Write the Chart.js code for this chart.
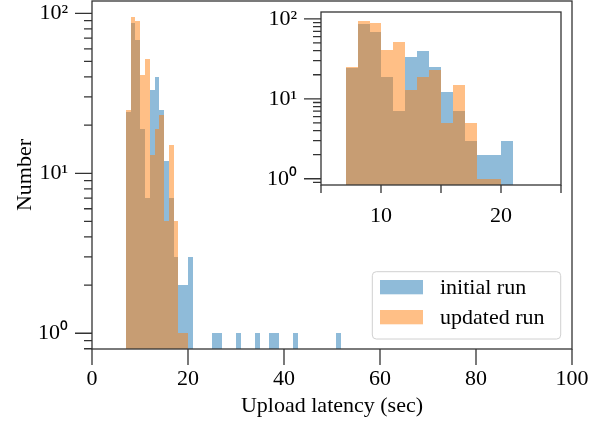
<!DOCTYPE html>
<html><head><meta charset="utf-8">
<script src="https://cdn.jsdelivr.net/npm/chart.js@4.4.0/dist/chart.umd.min.js"></script>
<style>
html,body{margin:0;padding:0;background:#fff;}
#wrap{position:relative;width:606px;height:424px;}
canvas{position:absolute;left:0;top:0;}
#inset{pointer-events:none;}
</style></head><body>
<div id="wrap"><canvas id="main" width="606" height="424"></canvas><canvas id="inset" width="606" height="424"></canvas></div>
<script>
// ---- data ----
const binStart = 7.05;     // left edge of first histogram bin (sec)
const binWidth = 0.997;    // histogram bin width (sec)
const initialRun = [24,87,68,19,7,33,40,25,12,7,3,2,2,3, 0,0,0,0, 1,1, 0,0,0, 1, 0,0,0, 1, 0,0, 1,1, 0,0,0, 1, 0,0,0,0,0,0,0,0, 1];
const updatedRun = [25,95,89,41,52,13,19,23,5,15,5,1,1];
const seriesLabels = ['initial run', 'updated run'];
const mainXTicks = [0, 20, 40, 60, 80, 100];
const insetXTicks = [10, 20];
const insetXTickMarks = [5, 10, 15, 20, 25];
const yTickValues = [1, 10, 100];
const yTickLabels = ['10⁰', '10¹', '10²'];
const yMinorValues = [0.8, 0.9, 2, 3, 4, 5, 6, 7, 8, 9, 20, 30, 40, 50, 60, 70, 80, 90];
const xTitle = 'Upload latency (sec)';
const yTitle = 'Number';

// ---- helpers ----
const FONT = {family: "'Liberation Serif', 'Times New Roman', serif", size: 22};
const AX = '#333';
const toPts = arr => arr.map((c, i) => ({x: binStart + (i + 0.5) * binWidth, y: c > 0 ? c : null}));
function makeDatasets() {
  const common = {borderWidth: 0, grouped: false, categoryPercentage: 1, barPercentage: 1, inflateAmount: 0};
  return [
    Object.assign({label: seriesLabels[0], data: toPts(initialRun), backgroundColor: 'rgba(31,119,180,0.5)', order: 2}, common),
    Object.assign({label: seriesLabels[1], data: toPts(updatedRun), backgroundColor: 'rgba(255,127,14,0.5)', order: 1}, common)
  ];
}
const yLabel = v => { const i = yTickValues.indexOf(v); return i >= 0 ? yTickLabels[i] : ''; };
const noPad = sc => { sc.paddingTop = 0; sc.paddingBottom = 0; sc.paddingLeft = 0; sc.paddingRight = 0; };

// snap bar edges to whole pixels so adjacent translucent bins don't show seams
const snapBars = {
  id: 'snapBars',
  afterDatasetsUpdate(chart) {
    chart.getSortedVisibleDatasetMetas().forEach(meta => {
      meta.data.forEach(el => {
        if (!el || !isFinite(el.x) || !isFinite(el.width)) return;
        const l = Math.round(el.x - el.width / 2), r = Math.round(el.x + el.width / 2);
        el.x = (l + r) / 2; el.width = r - l;
        if (isFinite(el.y)) el.y = Math.round(el.y);
      });
    });
  }
};
const frameTicks = {
  id: 'frameTicks',
  afterDraw(chart, args, o) {
    const ctx = chart.ctx, a = chart.chartArea, xs = chart.scales.x, ys = chart.scales.y;
    ctx.save();
    ctx.strokeStyle = AX; ctx.lineWidth = 1.3;
    ctx.beginPath();
    o.xMajor.forEach(v => { const p = xs.getPixelForValue(v); ctx.moveTo(p, a.bottom); ctx.lineTo(p, a.bottom + o.xLen); });
    yTickValues.forEach(v => { const p = ys.getPixelForValue(v); ctx.moveTo(a.left, p); ctx.lineTo(a.left - o.yLen, p); });
    yMinorValues.forEach(v => { if (v < ys.min || v > ys.max) return; const p = ys.getPixelForValue(v); ctx.moveTo(a.left, p); ctx.lineTo(a.left - o.yMinorLen, p); });
    ctx.stroke();
    ctx.strokeRect(a.left, a.top, a.right - a.left, a.bottom - a.top);
    ctx.restore();
  }
};
const whiteArea = {
  id: 'whiteArea',
  beforeDatasetsDraw(chart) {
    const a = chart.chartArea, ctx = chart.ctx;
    ctx.save(); ctx.fillStyle = '#fff'; ctx.fillRect(a.left, a.top, a.right - a.left, a.bottom - a.top); ctx.restore();
  }
};
const boxLegend = {
  id: 'boxLegend',
  afterDraw(chart, args, o) {
    const a = chart.chartArea, ctx = chart.ctx;
    const r = a.right - o.right, b = a.bottom - o.bottom, l = r - o.w, t = b - o.h;
    ctx.save();
    ctx.beginPath();
    ctx.roundRect(l, t, o.w, o.h, 4);
    ctx.fillStyle = 'rgba(255,255,255,0.8)'; ctx.fill();
    ctx.strokeStyle = '#d0d0d0'; ctx.lineWidth = 1; ctx.stroke();
    ctx.font = `${FONT.size}px ${FONT.family}`;
    ctx.textBaseline = 'alphabetic'; ctx.textAlign = 'left'; ctx.fillStyle = '#000';
    chart.data.datasets.forEach((ds, i) => {
      const sy = t + 8.3 + i * 30;
      ctx.fillStyle = '#fff'; ctx.fillRect(l + 7.7, sy, 43, 14.3);
      ctx.fillStyle = ds.backgroundColor; ctx.fillRect(l + 7.7, sy, 43, 14.3);
      ctx.fillStyle = '#000'; ctx.fillText(ds.label, l + 67.7, sy + 14.3);
    });
    ctx.restore();
  }
};

function scaleX(min, max, tickVals, height, pad, title) {
  const s = {
    type: 'linear', min, max, offset: false,
    grid: {display: false, drawTicks: false}, border: {display: false},
    afterBuildTicks: sc => { sc.ticks = tickVals.map(v => ({value: v})); },
    afterFit: sc => { sc.height = height; noPad(sc); },
    ticks: {padding: pad, font: FONT, color: '#000', maxRotation: 0, autoSkip: false, callback: v => String(v)}
  };
  if (title) s.title = {display: true, text: title, font: FONT, color: '#000', padding: {top: 5, bottom: 5}};
  return s;
}
function scaleY(min, max, width, title) {
  const s = {
    type: 'logarithmic', min, max, beginAtZero: false,
    grid: {display: false, drawTicks: false}, border: {display: false},
    afterBuildTicks: sc => { sc.ticks = yTickValues.map(v => ({value: v})); },
    afterFit: sc => { sc.width = width; noPad(sc); },
    ticks: {padding: 24, font: FONT, color: '#000', autoSkip: false, callback: yLabel}
  };
  if (title) s.title = {display: true, text: title, font: FONT, color: '#000', padding: {top: 12, bottom: 0}};
  return s;
}

new Chart(document.getElementById('main'), {
  type: 'bar',
  data: {datasets: makeDatasets()},
  options: {
    responsive: false, animation: false, devicePixelRatio: 1,
    layout: {padding: {left: 0, right: 34, top: 1, bottom: 0}},
    plugins: {
      legend: {display: false}, tooltip: {enabled: false},
      frameTicks: {xMajor: mainXTicks, xLen: 16, yLen: 17, yMinorLen: 8},
      boxLegend: {right: 11.3, bottom: 10, w: 188.4, h: 67.3}
    },
    scales: {x: scaleX(0, 100, mainXTicks, 75, 17, xTitle), y: scaleY(0.797, 119.4, 92, yTitle)}
  },
  plugins: [snapBars, frameTicks, boxLegend]
});

new Chart(document.getElementById('inset'), {
  type: 'bar',
  data: {datasets: makeDatasets()},
  options: {
    responsive: false, animation: false, devicePixelRatio: 1,
    layout: {padding: {left: 0, right: 45, top: 12, bottom: 0}},
    plugins: {
      legend: {display: false}, tooltip: {enabled: false},
      frameTicks: {xMajor: insetXTickMarks, xLen: 8, yLen: 17, yMinorLen: 8}
    },
    scales: {x: scaleX(5, 25, insetXTicks, 239, 18, null), y: scaleY(0.835, 122, 321, null)}
  },
  plugins: [snapBars, whiteArea, frameTicks]
});
</script>
</body></html>
